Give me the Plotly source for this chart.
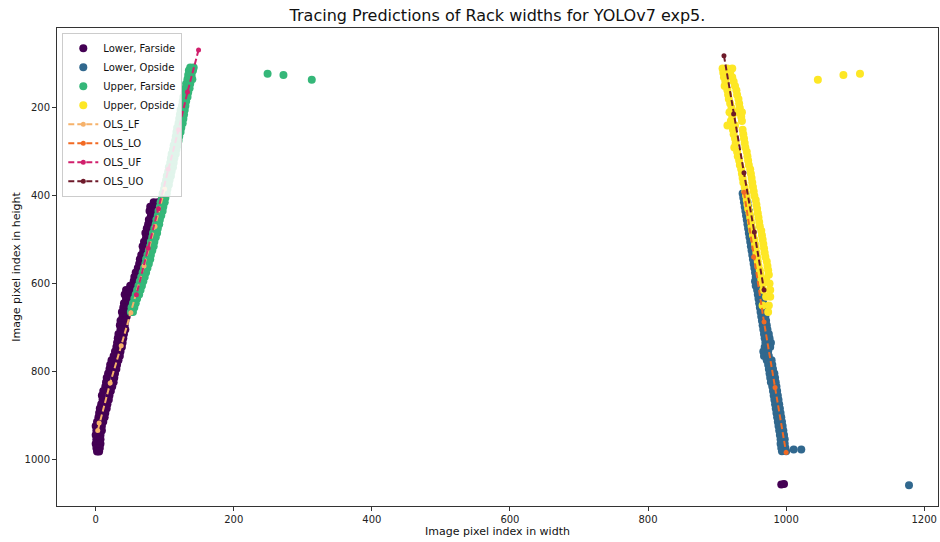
import plotly.graph_objects as go

# ---------------- data: (height-pixel y, width-pixel x ...) rows ----------------
lf_rows = [
    (415, 84, 90), (425, 79, 87, 93), (435, 78, 85, 91), (445, 80, 88), (455, 77, 84), (465, 76, 82),
    (475, 74, 80), (485, 72, 78), (495, 73, 77), (505, 70, 75), (515, 68, 74), (525, 69, 72),
    (535, 66, 71), (545, 64, 69), (555, 63, 67), (565, 61, 66), (575, 58, 64), (585, 56, 62),
    (595, 55, 60), (605, 50, 57), (615, 44, 49, 54), (625, 42, 48), (635, 44, 50), (645, 41, 47),
    (655, 40, 46), (665, 38, 46), (675, 39, 45), (685, 36, 43), (695, 35, 42), (705, 36, 43),
    (715, 33, 41), (725, 32, 40), (735, 31, 39), (745, 30, 38), (755, 28, 36), (765, 26, 35),
    (775, 23, 33), (785, 21, 31), (795, 20, 30), (805, 18, 28), (815, 16, 27), (825, 15, 26),
    (835, 14, 24), (845, 11, 22), (855, 9, 20), (865, 10, 19), (875, 8, 17), (885, 6, 16),
    (895, 5, 14), (905, 4, 13), (915, 2, 11), (925, 0, 9), (935, 1, 9), (945, 0, 7), (955, 1, 7),
    (965, 0, 7), (975, 1, 6), (983, 2, 5), (1058, 993), (1057, 997),
]

lo_rows = [
    (395, 937, 941), (405, 938, 942), (415, 939, 944), (425, 940, 945), (435, 941, 946),
    (445, 942, 947), (455, 943, 948), (465, 944, 949), (475, 945, 950), (485, 946, 951),
    (495, 947, 952), (505, 948, 953), (515, 949, 954), (525, 950, 955), (535, 951, 956),
    (545, 952, 957), (555, 953, 958), (565, 954, 959), (575, 955, 960), (585, 956, 961),
    (595, 955, 962), (605, 956, 963), (615, 958, 964), (625, 959, 965), (635, 960, 966),
    (645, 961, 967), (655, 962, 968), (665, 963, 969), (675, 964, 970), (685, 965, 971),
    (695, 966, 972), (705, 967, 973), (715, 968, 975), (725, 969, 976), (735, 970, 978),
    (745, 969, 977), (755, 967, 974), (765, 968, 975), (775, 972, 979), (785, 974, 980),
    (795, 975, 981), (805, 976, 983), (815, 977, 984), (825, 978, 985), (835, 980, 986),
    (845, 981, 987), (855, 982, 988), (865, 983, 989), (875, 984, 990), (885, 985, 991),
    (895, 986, 992), (905, 987, 993), (915, 988, 994), (925, 989, 995), (935, 990, 996),
    (945, 991, 997), (955, 992, 998), (965, 992, 998), (975, 993, 999), (982, 994, 1000),
    (978, 1011, 1022), (1060, 1178),
]

uf_rows = [
    (108, 137, 142), (115, 135, 141), (125, 134, 139), (135, 133, 140), (145, 131, 137),
    (155, 130, 136), (165, 129, 134), (175, 127, 133), (185, 126, 131), (195, 125, 130),
    (205, 123, 129), (215, 122, 128), (225, 121, 127), (235, 120, 126), (245, 118, 124),
    (255, 117, 123), (265, 116, 121), (275, 115, 120), (285, 113, 119), (295, 112, 117),
    (305, 110, 116), (315, 109, 114), (325, 108, 113), (335, 106, 112), (345, 105, 110),
    (355, 103, 109), (365, 102, 107), (375, 100, 106), (385, 99, 104), (395, 97, 103),
    (405, 96, 101), (415, 94, 100), (425, 93, 98), (435, 91, 97), (445, 90, 95),
    (455, 88, 93), (465, 87, 92), (475, 85, 90), (485, 83, 89), (495, 82, 87),
    (505, 80, 85), (515, 79, 84), (525, 77, 82), (535, 75, 80), (545, 73, 79),
    (555, 72, 77), (565, 70, 75), (575, 68, 73), (585, 66, 71), (595, 64, 69),
    (605, 62, 67), (615, 60, 65), (625, 58, 63), (635, 56, 60), (645, 54, 58),
    (655, 52, 56), (665, 51, 54), (122, 249), (125, 272), (136, 313),
]

uo_rows = [
    (110, 908, 915, 922), (120, 909, 919), (130, 910, 922), (140, 912, 924), (150, 911, 926),
    (160, 915, 928), (170, 916, 929), (180, 917, 931), (190, 919, 932), (200, 921, 933),
    (210, 918, 928, 936), (220, 922, 935), (230, 920, 936), (240, 915, 926), (250, 923, 937),
    (260, 924, 938), (270, 926, 939), (280, 927, 940), (290, 925, 941), (300, 929, 943),
    (310, 930, 944), (320, 932, 945), (330, 933, 946), (340, 935, 948), (350, 936, 949),
    (360, 937, 950), (370, 938, 951), (380, 940, 952), (390, 941, 953), (400, 942, 954),
    (410, 943, 956), (420, 944, 957), (430, 945, 958), (440, 947, 959), (450, 948, 960),
    (460, 949, 961), (470, 950, 962), (480, 951, 964), (490, 952, 965), (500, 954, 966),
    (510, 955, 967), (520, 956, 968), (530, 957, 969), (540, 958, 970), (550, 959, 972),
    (560, 960, 973), (570, 962, 974), (580, 963, 975), (590, 964, 971), (600, 966, 976),
    (615, 967, 977), (630, 971, 977), (650, 966, 975), (665, 974),
    (136, 1046), (125, 1083), (122, 1107),
]

ols_lf_x = [100, 86, 70, 51, 37, 21, 5, 3]
ols_lf_y = [385, 470, 560, 667, 742, 827, 918, 935]
ols_lo_x = [939, 953, 968, 984, 1000]
ols_lo_y = [392, 540, 688, 837, 985]
ols_uf_x = [149, 133, 120, 105, 91, 76, 59]
ols_uf_y = [68, 164, 250, 340, 430, 520, 626]
ols_uo_x = [910, 924, 939, 954, 968]
ols_uo_y = [81, 214, 348, 483, 615]


def unpack(rows):
    xs, ys = [], []
    for row in rows:
        for xv in row[1:]:
            xs.append(xv)
            ys.append(row[0])
    return xs, ys


scatter_series = [
    ("Lower, Farside", lf_rows, "#440154"),
    ("Lower, Opside", lo_rows, "#31688e"),
    ("Upper, Farside", uf_rows, "#35b779"),
    ("Upper, Opside", uo_rows, "#fde725"),
]
ols_series = [
    ("OLS_LF", ols_lf_x, ols_lf_y, "#f6b26b"),
    ("OLS_LO", ols_lo_x, ols_lo_y, "#f26a23"),
    ("OLS_UF", ols_uf_x, ols_uf_y, "#d11f6c"),
    ("OLS_UO", ols_uo_x, ols_uo_y, "#6e1a2a"),
]

fig = go.Figure()
for name, rows, col in scatter_series:
    xs, ys = unpack(rows)
    fig.add_trace(go.Scatter(x=xs, y=ys, mode="markers", name=name,
                             marker=dict(color=col, size=8, line=dict(width=0))))
for name, xs, ys, col in ols_series:
    fig.add_trace(go.Scatter(x=xs, y=ys, mode="lines+markers", name=name,
                             line=dict(color=col, width=2, dash="6px,3px"),
                             marker=dict(color=col, size=5)))

axis_common = dict(showline=True, linecolor="#333333", linewidth=1, mirror=True,
                   ticks="outside", ticklen=4, tickcolor="#333333", showgrid=False,
                   zeroline=False, tickfont=dict(size=10, color="#222222"))

fig.update_layout(
    width=940, height=542,
    margin=dict(l=57, r=2, t=28, b=36),
    paper_bgcolor="white", plot_bgcolor="white",
    font=dict(family="DejaVu Sans", color="#111111"),
    title=dict(text="Tracing Predictions of Rack widths for YOLOv7 exp5.",
               x=0.5, xref="paper", xanchor="center", y=0.972, yanchor="middle",
               font=dict(size=16, color="#111111")),
    xaxis=dict(range=[-56, 1220], tickvals=[0, 200, 400, 600, 800, 1000, 1200],
               title=dict(text="Image pixel index in width", font=dict(size=11), standoff=3),
               **axis_common),
    yaxis=dict(range=[1107, 18], tickvals=[200, 400, 600, 800, 1000],
               title=dict(text="Image pixel index in height", font=dict(size=11), standoff=1),
               **axis_common),
    legend=dict(x=0.006, y=0.99, xanchor="left", yanchor="top",
                bgcolor="rgba(255,255,255,0.85)", bordercolor="#cccccc", borderwidth=1,
                font=dict(size=10, color="#111111"), tracegroupgap=0, itemwidth=30),
    showlegend=True,
)

fig.write_html("out.html")
